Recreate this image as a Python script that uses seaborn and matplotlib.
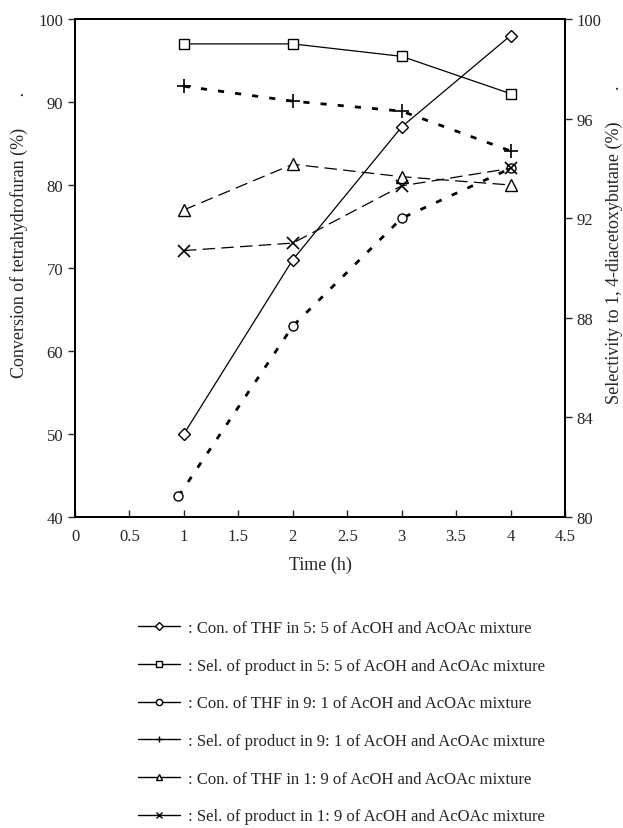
import matplotlib
matplotlib.use("Agg")
import matplotlib.pyplot as plt
import seaborn as sns
from matplotlib.lines import Line2D

# reaction time (h)
tempo = [1, 2, 3, 4]
tempo_91 = [0.95, 2, 3, 4]

# conversion of THF (%) -> left axis
conv_55 = [50, 71, 87, 98]
conv_91 = [42.5, 63, 76, 82]
conv_19 = [77, 82.5, 81, 80]

# selectivity to 1,4-diacetoxybutane (%) -> right axis
sel_55 = [99.0, 99.0, 98.5, 97.0]
sel_91 = [97.3, 96.7, 96.3, 94.7]
sel_19 = [90.7, 91.0, 93.3, 94.0]

xticks = [0, 0.5, 1, 1.5, 2, 2.5, 3, 3.5, 4, 4.5]
xtick_labels = ["0", "0.5", "1", "1.5", "2", "2.5", "3", "3.5", "4", "4.5"]
yticks_left = [40, 50, 60, 70, 80, 90, 100]
yticks_right = [80, 84, 88, 92, 96, 100]

legendas = [
    ": Con. of THF in 5: 5 of AcOH and AcOAc mixture",
    ": Sel. of product in 5: 5 of AcOH and AcOAc mixture",
    ": Con. of THF in 9: 1 of AcOH and AcOAc mixture",
    ": Sel. of product in 9: 1 of AcOH and AcOAc mixture",
    ": Con. of THF in 1: 9 of AcOH and AcOAc mixture",
    ": Sel. of product in 1: 9 of AcOH and AcOAc mixture",
]

sns.set_style("ticks")
plt.rcParams["font.family"] = ["Liberation Serif", "DejaVu Serif"]
plt.rcParams["font.size"] = 12

fig = plt.figure(figsize=(6.23, 8.29), dpi=100)
ax = fig.add_axes([75 / 623, 1 - 518 / 829, 490 / 623, 498 / 829])
ax2 = ax.twinx()

aberto = dict(color="black", markerfacecolor="white", markeredgecolor="black",
              markeredgewidth=1.0)
fino = 0.9
grosso = 2.0

sns.lineplot(x=tempo, y=conv_55, ax=ax, marker="D", markersize=6.5,
             linewidth=fino, linestyle="-", **aberto)
sns.lineplot(x=tempo_91, y=conv_91, ax=ax, marker="o", markersize=6.5,
             linewidth=grosso, linestyle=(0, (2.2, 4.0)), **aberto)
sns.lineplot(x=tempo, y=conv_19, ax=ax, marker="^", markersize=8,
             linewidth=fino, linestyle=(0, (10, 5)), **aberto)

sns.lineplot(x=tempo, y=sel_55, ax=ax2, marker="s", markersize=7,
             linewidth=fino, linestyle="-", **aberto)
sns.lineplot(x=tempo, y=sel_91, ax=ax2, marker="+", markersize=10,
             linewidth=grosso, linestyle=(0, (2.2, 4.0)), color="black",
             markeredgecolor="black", markeredgewidth=1.2)
sns.lineplot(x=tempo, y=sel_19, ax=ax2, marker="x", markersize=9,
             linewidth=fino, linestyle=(0, (10, 5)), color="black",
             markeredgecolor="black", markeredgewidth=1.2)

ax.set_xlim(0, 4.5)
ax.set_ylim(40, 100)
ax2.set_ylim(80, 100)
ax.set_xticks(xticks)
ax.set_xticklabels(xtick_labels)
ax.set_yticks(yticks_left)
ax2.set_yticks(yticks_right)

ax.tick_params(axis="x", direction="in", length=5, width=1, labelsize=12, pad=8)
ax.tick_params(axis="y", direction="out", length=5, width=1, labelsize=12)
ax2.tick_params(axis="y", direction="out", length=5, width=1, labelsize=12)
for a in (ax, ax2):
    for s in a.spines.values():
        s.set_visible(True)
        s.set_linewidth(1.4)
        s.set_color("black")

ax.set_xlabel("Time (h)", fontsize=13, labelpad=8)
ax.set_ylabel("Conversion of tetrahydrofuran (%)       .", fontsize=13)
ax2.set_ylabel("Selectivity to 1, 4-diacetoxybutane (%)       .", fontsize=13)
ax.yaxis.set_label_coords(-0.095, 0.568)
ax2.yaxis.set_label_coords(1.083, 0.548)

marcadores = ["D", "s", "o", "+", "^", "x"]
handles = [
    Line2D([], [], color="black", linewidth=1.0, marker=m, markersize=4.5,
           markerfacecolor="white", markeredgecolor="black")
    for m in marcadores
]
fig.legend(handles, legendas, loc="upper left",
           bbox_to_anchor=(138 / 623, 1 - 621 / 829), frameon=False,
           borderaxespad=0, borderpad=0, handlelength=2.5, handletextpad=0.5,
           labelspacing=1.3, fontsize=12)

fig.savefig("out.png", dpi=100)
